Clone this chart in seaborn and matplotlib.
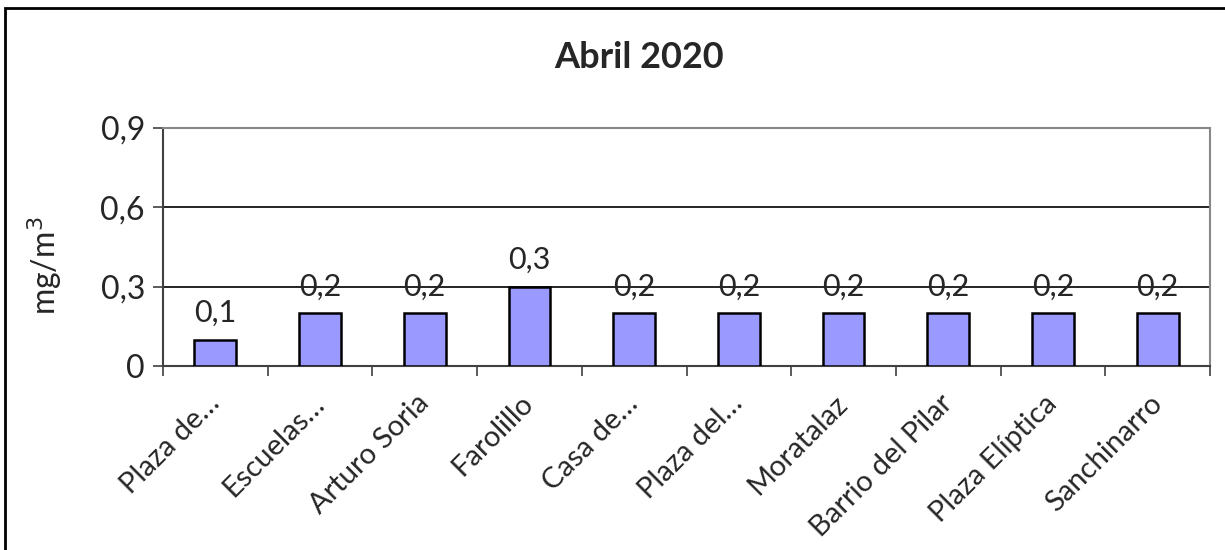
import matplotlib
matplotlib.use('Agg')
import matplotlib.pyplot as plt
import seaborn as sns
import pandas as pd
from matplotlib.patches import Rectangle
from matplotlib.ticker import FixedLocator, FuncFormatter

stations = ['Plaza de…', 'Escuelas…', 'Arturo Soria', 'Farolillo', 'Casa de…',
            'Plaza del…', 'Moratalaz', 'Barrio del Pilar', 'Plaza Elíptica', 'Sanchinarro']
values = [0.1, 0.2, 0.2, 0.3, 0.2, 0.2, 0.2, 0.2, 0.2, 0.2]
yticks = [0, 0.3, 0.6, 0.9]
title = 'Abril 2020'

df = pd.DataFrame({'station': stations, 'value': values})

sns.set_style('white')
plt.rcParams['font.family'] = ['Lato', 'DejaVu Sans']

fig = plt.figure(figsize=(12.25, 5.5), dpi=100)
ax = fig.add_axes([163 / 1225, 1 - 366 / 550, (1210 - 163) / 1225, (366 - 128) / 550])

sns.barplot(data=df, x='station', y='value', color='#9999ff', saturation=1,
            width=0.4, edgecolor='black', linewidth=1.8, ax=ax, zorder=3)

ax.set_ylim(0, 0.9)
ax.set_xlim(-0.5, len(stations) - 0.5)
ax.yaxis.set_major_locator(FixedLocator(yticks))
ax.yaxis.set_major_formatter(FuncFormatter(lambda v, p: ('%g' % v).replace('.', ',')))
for y in yticks[1:3]:
    ax.axhline(y, color='black', linewidth=1.2, zorder=1)

for p, v in zip(ax.patches, values):
    ax.annotate(('%g' % v).replace('.', ','), (p.get_x() + p.get_width() / 2, p.get_height()),
                xytext=(0, 9), textcoords='offset points',
                ha='center', va='bottom', fontsize=22, zorder=4)

# tick marks between categories
ax.set_xticks(range(len(stations)))
ax.set_xticklabels(stations, rotation=45, ha='right', va='center', rotation_mode='anchor', fontsize=21)
ax.tick_params(axis='x', length=0, pad=24)
ax.set_xticks([i - 0.5 for i in range(len(stations) + 1)], minor=True)
ax.tick_params(axis='x', which='minor', direction='out', length=7, width=1.2, color='#404040', bottom=True)
ax.tick_params(axis='y', direction='out', length=7, width=1.2, color='#404040', left=True, labelsize=23, pad=6)

for side in ['top', 'right']:
    ax.spines[side].set_color('#888888')
    ax.spines[side].set_linewidth(1.5)
for side in ['left', 'bottom']:
    ax.spines[side].set_color('#404040')
    ax.spines[side].set_linewidth(1.5)

ax.set_xlabel('')
ax.set_ylabel('mg/m$^3$', fontsize=23)
ax.yaxis.set_label_coords(-0.095, 0.42)
fig.text(0.522, 1 - 57 / 550, title, ha='center', va='center', fontsize=26, fontweight='bold')

# outer chart border
fig.patches.append(Rectangle((5 / 1225, -0.1), 1.2, 1 - 8 / 550 + 0.1, transform=fig.transFigure,
                             fill=False, edgecolor='black', linewidth=2))

fig.savefig('out.png', dpi=100)
